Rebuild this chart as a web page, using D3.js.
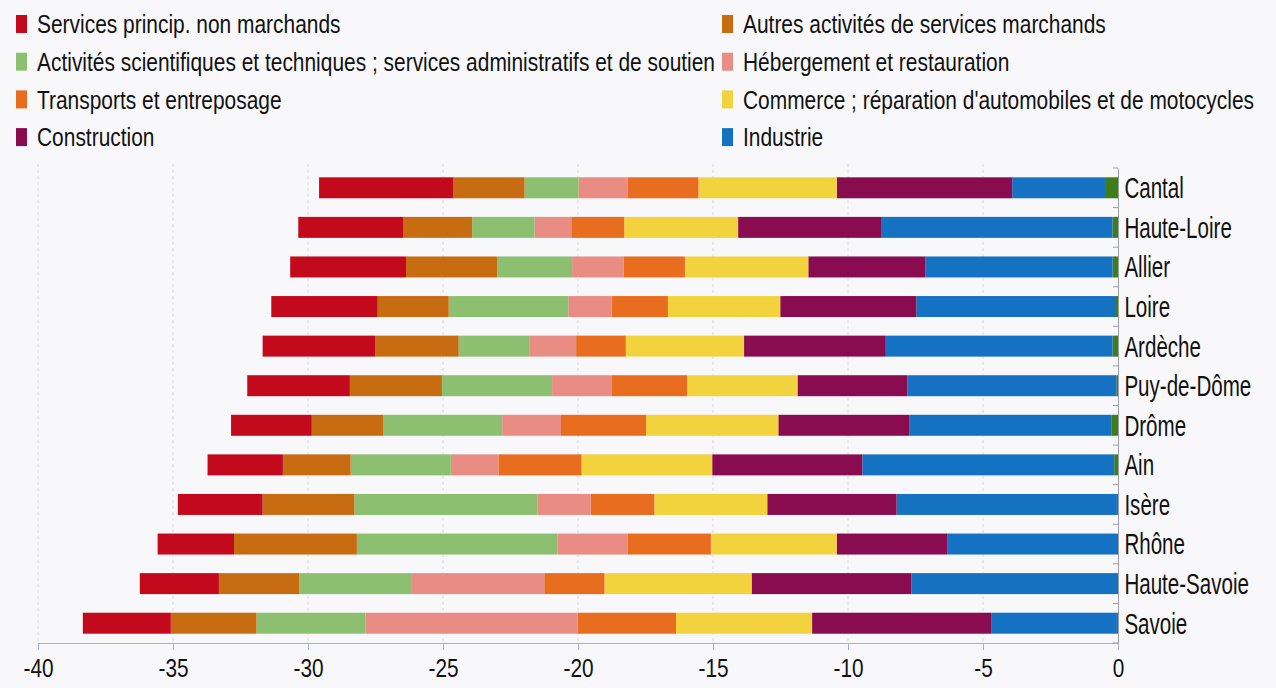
<!DOCTYPE html>
<html>
<head>
<meta charset="utf-8">
<script src="https://cdn.jsdelivr.net/npm/d3@7"></script>
<style>
  body { margin: 0; background: #f8f8fa; }
  svg { display: block; }
  text { font-family: "Liberation Sans", Arial, sans-serif; fill: #111; }
</style>
</head>
<body>
<div id="wrapper"></div>
<script>
const departements = ["Cantal", "Haute-Loire", "Allier", "Loire", "Ardèche", "Puy-de-Dôme",
  "Drôme", "Ain", "Isère", "Rhône", "Haute-Savoie", "Savoie"]

// valeurs par secteur, dans l'ordre des départements
const agriculture   = [-0.48, -0.20, -0.20, -0.11, -0.20, -0.06, -0.23, -0.14, -0.04, 0, 0, -0.04]
const industrie     = [-3.44, -8.55, -6.93, -7.36, -8.40, -7.74, -7.49, -9.33, -8.16, -6.31, -7.65, -4.66]
const construction  = [-6.49, -5.32, -4.34, -5.04, -5.25, -4.07, -4.86, -5.56, -4.79, -4.11, -5.92, -6.63]
const commerce      = [-5.13, -4.22, -4.57, -4.16, -4.38, -4.09, -4.90, -4.84, -4.18, -4.66, -5.45, -5.04]
const transports    = [-2.61, -1.96, -2.28, -2.09, -1.84, -2.78, -3.15, -3.08, -2.36, -3.07, -2.23, -3.65]
const hebergement   = [-1.83, -1.36, -1.90, -1.60, -1.74, -2.22, -2.18, -1.76, -1.96, -2.61, -4.90, -7.85]
const scientifiques = [-2.00, -2.31, -2.77, -4.43, -2.61, -4.08, -4.41, -3.71, -6.79, -7.43, -4.17, -4.04]
const autres        = [-2.63, -2.56, -3.38, -2.63, -3.08, -3.41, -2.64, -2.51, -3.40, -4.55, -2.98, -3.17]
const services      = [-4.98, -3.88, -4.29, -3.94, -4.18, -3.80, -2.99, -2.79, -3.14, -2.83, -2.93, -3.26]

const xTicks = [-40, -35, -30, -25, -20, -15, -10, -5, 0]

const legendLeft = [
  ["services", "Services princip. non marchands"],
  ["scientifiques", "Activités scientifiques et techniques ; services administratifs et de soutien"],
  ["transports", "Transports et entreposage"],
  ["construction", "Construction"],
]
const legendRight = [
  ["autres", "Autres activités de services marchands"],
  ["hebergement", "Hébergement et restauration"],
  ["commerce", "Commerce ; réparation d'automobiles et de motocycles"],
  ["industrie", "Industrie"],
]

const colors = {
  agriculture: "#3f7d18",
  industrie: "#1572c3",
  construction: "#8a0c50",
  commerce: "#f2d33e",
  transports: "#e96d1e",
  hebergement: "#e98d84",
  scientifiques: "#8cc070",
  autres: "#c86c12",
  services: "#c30a1c",
}

function drawChart(){

  const series = {agriculture, industrie, construction, commerce, transports,
    hebergement, scientifiques, autres, services}
  const keys = Object.keys(series)

  const dataset = departements.map((dep, i) => {
    const row = {departement: dep}
    keys.forEach(k => row[k] = series[k][i])
    return row
  })

  let dimensions = {
    width: 1276,
    height: 688,
    margin: {
      top: 168,
      right: 158,
      bottom: 45,
      left: 38,
    },
  }
  dimensions.boundedWidth = dimensions.width - dimensions.margin.left - dimensions.margin.right
  dimensions.boundedHeight = dimensions.height - dimensions.margin.top - dimensions.margin.bottom

  const wrapper = d3.select("#wrapper")
    .append("svg")
      .attr("width", dimensions.width)
      .attr("height", dimensions.height)

  const bounds = wrapper.append("g")
      .attr("transform", `translate(${dimensions.margin.left}, ${dimensions.margin.top})`)

  const xScale = d3.scaleLinear()
    .domain([-40, 0])
    .range([0, dimensions.boundedWidth])

  const yScale = d3.scaleBand()
    .domain(departements)
    .range([0, dimensions.boundedHeight])
    .paddingInner(0.47)
    .paddingOuter(0.235)

  // grille verticale pointillée
  bounds.append("g")
    .selectAll("line")
    .data(xTicks.slice(0, -1))
    .join("line")
      .attr("x1", d => xScale(d))
      .attr("x2", d => xScale(d))
      .attr("y1", -4)
      .attr("y2", dimensions.boundedHeight)
      .attr("stroke", "#d8dae0")
      .attr("stroke-dasharray", "3,3")

  const stack = d3.stack()
    .keys(keys)
    .offset(d3.stackOffsetDiverging)

  const layers = bounds.append("g")
    .selectAll("g")
    .data(stack(dataset))
    .join("g")
      .attr("fill", d => colors[d.key])

  layers.selectAll("rect")
    .data(d => d)
    .join("rect")
      .attr("x", d => xScale(d[0]))
      .attr("y", d => yScale(d.data.departement))
      .attr("width", d => xScale(d[1]) - xScale(d[0]))
      .attr("height", yScale.bandwidth())

  // axe horizontal
  const xAxisGenerator = d3.axisBottom()
    .scale(xScale)
    .tickValues(xTicks)
    .tickFormat(d => String(d))
    .tickSize(7)
    .tickPadding(9)

  const xAxis = bounds.append("g")
      .attr("transform", `translate(0, ${dimensions.boundedHeight})`)
      .call(xAxisGenerator)

  xAxis.select(".domain").attr("stroke", "#a9b3c6")
  xAxis.selectAll(".tick line").attr("stroke", "#a9b3c6")
  xAxis.selectAll(".tick text")
      .attr("fill", "#111")
      .attr("transform", "scale(0.8, 1)")
      .style("font-size", "26px")

  // axe vertical à droite (valeur 0)
  const yAxisGenerator = d3.axisRight()
    .scale(yScale)
    .tickSize(0)
    .tickPadding(9)

  const yAxis = bounds.append("g")
      .attr("transform", `translate(${xScale(0)}, 0)`)
      .call(yAxisGenerator)

  yAxis.select(".domain").attr("stroke", "#9a9ea8")
  yAxis.selectAll(".tick text")
      .attr("fill", "#111")
      .attr("dy", "0.36em")
      .attr("transform", "scale(0.71, 1)")
      .style("font-size", "29px")

  // petits traits entre les catégories
  bounds.append("g")
    .selectAll("line")
    .data(d3.range(departements.length + 1))
    .join("line")
      .attr("x1", xScale(0) - 5)
      .attr("x2", xScale(0))
      .attr("y1", i => yScale.step() * i)
      .attr("y2", i => yScale.step() * i)
      .attr("stroke", "#9a9ea8")

  // légende
  const legendRowHeight = 37.7
  const drawLegend = (items, x) => {
    const g = wrapper.append("g")
        .attr("transform", `translate(${x}, 24)`)
    const rows = g.selectAll("g")
      .data(items)
      .join("g")
        .attr("transform", (d, i) => `translate(0, ${i * legendRowHeight})`)
    rows.append("rect")
        .attr("x", 0)
        .attr("y", -9)
        .attr("width", 11)
        .attr("height", 18)
        .attr("fill", d => colors[d[0]])
    rows.append("text")
        .attr("transform", "translate(21, 0) scale(0.805, 1)")
        .attr("dy", "0.36em")
        .style("font-size", "26px")
        .text(d => d[1])
  }
  drawLegend(legendLeft, 16)
  drawLegend(legendRight, 722)
}

drawChart()
</script>
</body>
</html>
